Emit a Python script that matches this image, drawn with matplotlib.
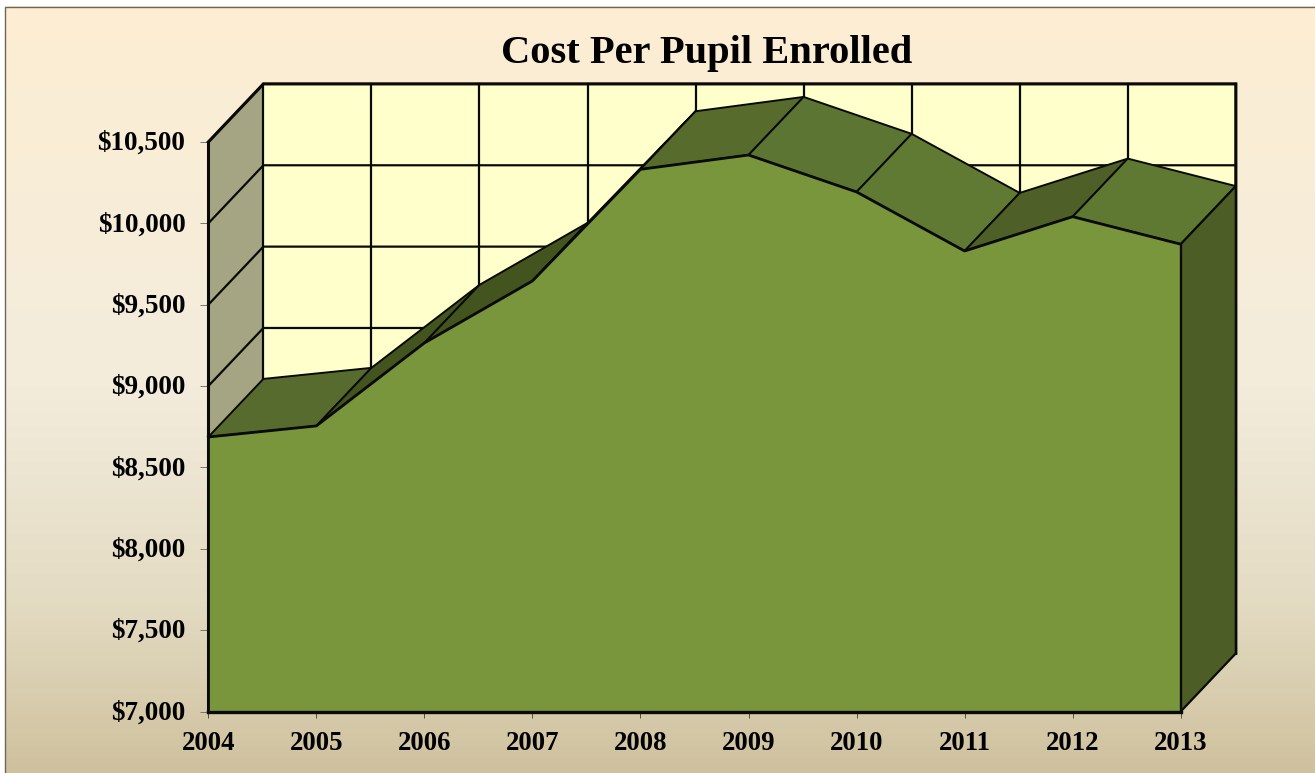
import matplotlib
matplotlib.use("Agg")
import matplotlib.pyplot as plt
import numpy as np
from matplotlib.colors import LinearSegmentedColormap
from matplotlib.patches import Polygon
from matplotlib.transforms import ScaledTranslation

W, H = 1315, 773
years = [2004, 2005, 2006, 2007, 2008, 2009, 2010, 2011, 2012, 2013]
cost = [8687, 8755, 9265, 9646, 10332, 10420, 10193, 9830, 10041, 9872]
y_ticks = [7000, 7500, 8000, 8500, 9000, 9500, 10000, 10500]
title = "Cost Per Pupil Enrolled"

DX = 0.51   # depth in years
DY = 357    # depth in dollars

plt.rcParams['font.family'] = ['Liberation Serif', 'DejaVu Serif']
fig = plt.figure(figsize=(W / 100, H / 100), dpi=100)
fig.patch.set_facecolor('white')

# background gradient
bg = fig.add_axes([0, 0, 1, 1], zorder=0)
bg.set_axis_off()
cmap = LinearSegmentedColormap.from_list('bg', [
    (0.0, '#FDEED3'), (0.5, '#F3ECDC'), (0.78, '#E3DBC2'), (1.0, '#CFC19E')])
bg.imshow(np.linspace(0, 1, 256).reshape(-1, 1), cmap=cmap, aspect='auto',
          extent=(0, W, H, 0))
bg.set_xlim(0, W)
bg.set_ylim(H, 0)
bg.fill_between([0, W], 0, 6, color='white', lw=0)
bg.fill_between([0, 5], 0, H, color='white', lw=0)
bg.plot([W, 5.5, 5.5], [6.5, 6.5, H], color='#6E6656', lw=1.0, solid_joinstyle='miter')

# data axes: pixel rect of 2004..2013, 7000..10500
px0, px1 = 208.3, 1180.7
py0, py1 = 711.5, 142.0
ax = fig.add_axes([px0 / W, 1 - py0 / H, (px1 - px0) / W, (py0 - py1) / H], zorder=1)
ax.set_xlim(years[0], years[-1])
ax.set_ylim(y_ticks[0], y_ticks[-1])
ax.patch.set_alpha(0)
for s in ax.spines.values():
    s.set_visible(False)

LINE = '#0A0A05'
lw = 1.6
x0, x1 = years[0], years[-1]
yb, yt = y_ticks[0], y_ticks[-1]

# back wall
ax.add_patch(Polygon([(x0 + DX, yb + DY), (x1 + DX, yb + DY), (x1 + DX, yt + DY), (x0 + DX, yt + DY)],
                     closed=True, fc='#FFFFCC', ec='none', clip_on=False, zorder=1))
# left wall
ax.add_patch(Polygon([(x0, yb), (x0 + DX, yb + DY), (x0 + DX, yt + DY), (x0, yt)],
                     closed=True, fc='#A6A583', ec='none', clip_on=False, zorder=1))
# gridlines
for v in y_ticks:
    ax.plot([x0, x0 + DX, x1 + DX], [v, v + DY, v + DY], color=LINE, lw=lw, clip_on=False, zorder=2,
            solid_joinstyle='miter')
for yr in years:
    ax.plot([yr + DX, yr + DX], [yb + DY, yt + DY], color=LINE, lw=lw, clip_on=False, zorder=2)
ax.plot([x0, x0], [yb, yt], color=LINE, lw=2.2, clip_on=False, zorder=2)
ax.plot([x0, x0 + DX, x1 + DX, x1 + DX], [yt, yt + DY, yt + DY, yb + DY], color=LINE, lw=2.2,
        clip_on=False, zorder=2, solid_joinstyle='miter')

# top faces of the ridge
face_colors = ['#566B2D', '#43541F', '#43541F', '#43541F', '#576B2D',
               '#5C7532', '#607A34', '#4E6028', '#5F7933']
for i in range(len(years) - 1):
    a, b = years[i], years[i + 1]
    ca, cb = cost[i], cost[i + 1]
    ax.add_patch(Polygon([(a, ca), (b, cb), (b + DX, cb + DY), (a + DX, ca + DY)], closed=True,
                         fc=face_colors[i], ec=LINE, lw=1.4, clip_on=False, zorder=3,
                         joinstyle='round'))

# right side face
ax.add_patch(Polygon([(x1, yb), (x1 + DX, yb + DY), (x1 + DX, cost[-1] + DY), (x1, cost[-1])],
                     closed=True, fc='#4C5E26', ec=LINE, lw=1.6, clip_on=False, zorder=4))

# front face
ax.fill_between(years, yb, cost, color='#7A963C', lw=0, clip_on=False, zorder=5)
ax.plot(years, cost, color=LINE, lw=2.0, clip_on=False, zorder=6)
ax.plot([x0, x0], [yb, cost[0]], color=LINE, lw=2.0, clip_on=False, zorder=6)
ax.plot([x1, x1], [yb, cost[-1]], color=LINE, lw=1.7, clip_on=False, zorder=6)
ax.plot([x0, x1], [yb - 6, yb - 6], color=LINE, lw=2.4, clip_on=False, zorder=6)

# ticks and labels
ax.set_xticks(years)
ax.set_xticklabels([str(y) for y in years])
ax.set_yticks(y_ticks)
ax.set_yticklabels([f"${v:,}" for v in y_ticks])
ax.tick_params(axis='x', length=4.5, width=0.7, color='#55503F', pad=9.2,
               labelsize=19.3)
ax.tick_params(axis='y', length=6, width=0.7, color='#7A7565', pad=10.5,
               labelsize=19.5)
lift = ScaledTranslation(0, 1.5 / 100, fig.dpi_scale_trans)
for t in ax.get_yticklabels():
    t.set_transform(t.get_transform() + lift)
for t in ax.get_xticklabels() + ax.get_yticklabels():
    t.set_fontweight('bold')
    t.set_color('black')

fig.text(706.5 / W, 1 - 53 / H, title, ha='center', va='center', fontsize=29.2,
         fontweight='bold', color='black', zorder=5)

fig.savefig('out.png', dpi=100)
